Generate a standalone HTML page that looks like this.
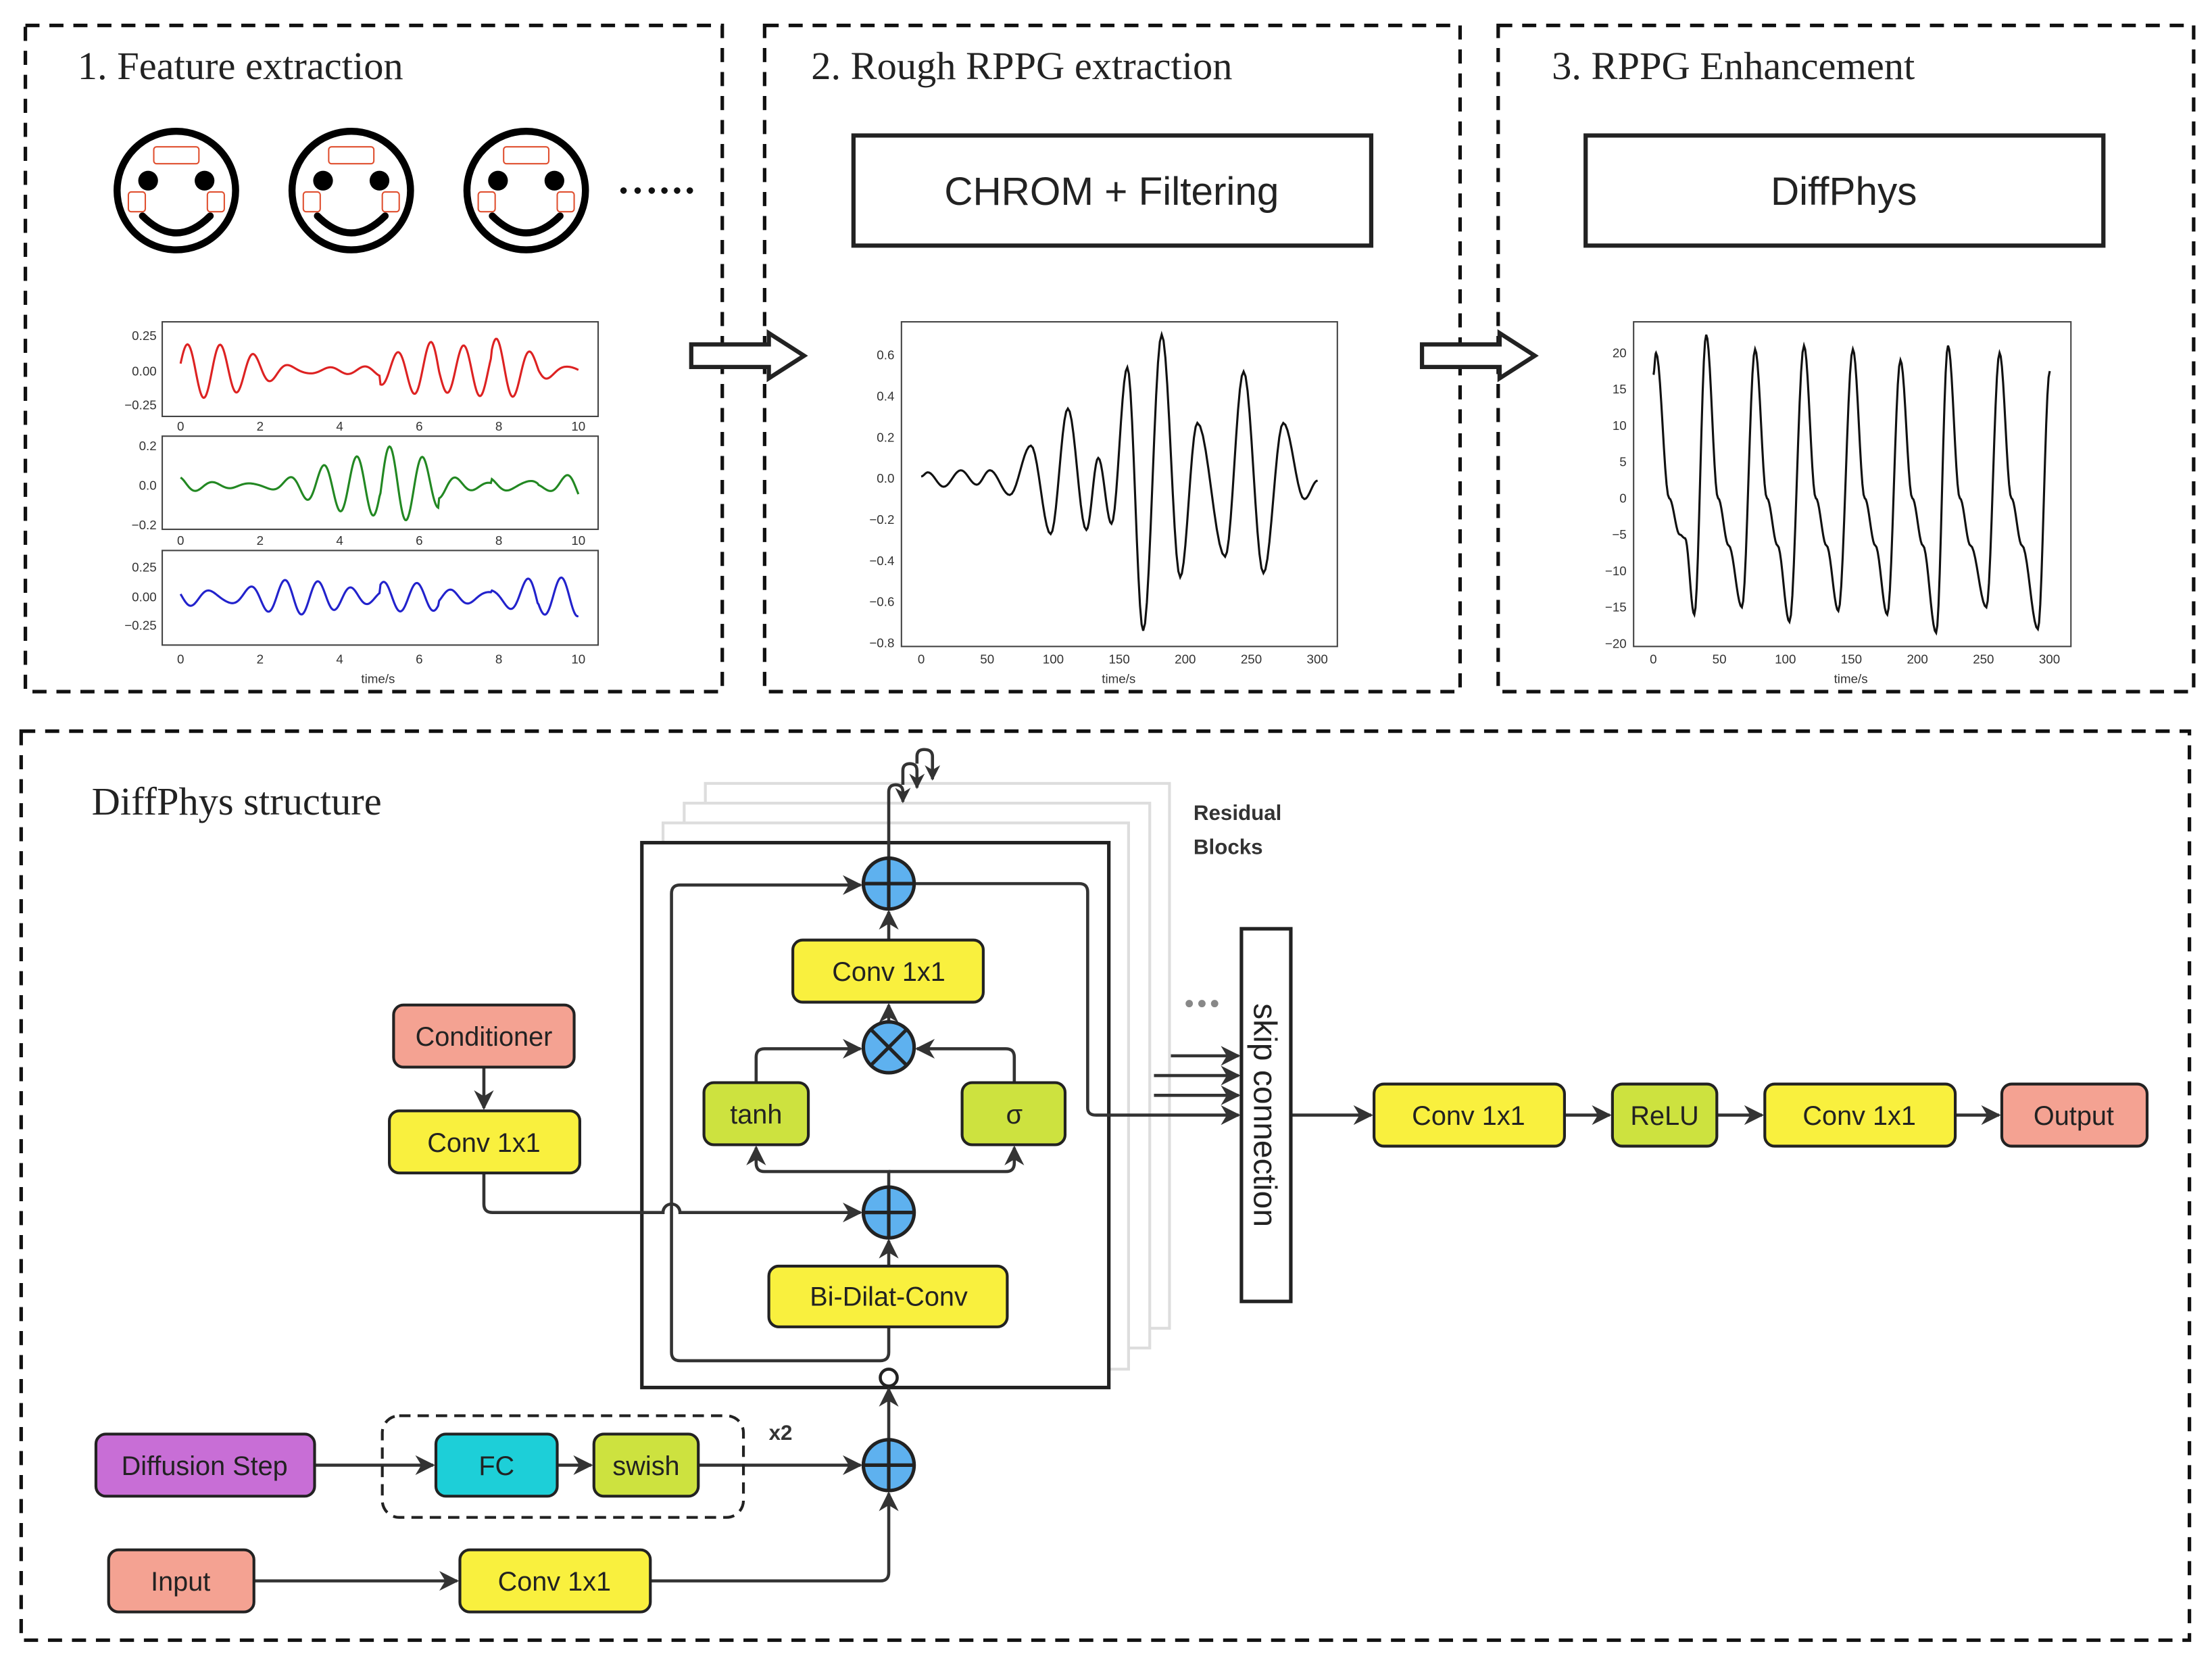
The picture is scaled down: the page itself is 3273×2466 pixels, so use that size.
<!DOCTYPE html>
<html><head><meta charset="utf-8"><style>
html,body{margin:0;padding:0;background:#fff}
svg{display:block}
.s{font-family:"Liberation Sans",sans-serif}
.r{font-family:"Liberation Serif",serif}
</style></head><body>
<svg id="sv" width="3273" height="2466" viewBox="0 0 1568 1181" preserveAspectRatio="none" xmlns="http://www.w3.org/2000/svg">
<defs>
<marker id="ah" viewBox="0 0 10 10" refX="9" refY="5" markerWidth="11" markerHeight="11" orient="auto-start-reverse" markerUnits="userSpaceOnUse">
<path d="M0,0 L10,5 L0,10 L3,5 z" fill="#333"/></marker>
<marker id="ah2" viewBox="0 0 10 10" refX="9" refY="5" markerWidth="14" markerHeight="14" orient="auto" markerUnits="userSpaceOnUse">
<path d="M0,0 L10,5 L0,10 L3,5 z" fill="#333"/></marker>
</defs>
<rect width="1568" height="1181" fill="#fff"/>
<g fill="none" stroke="#111" stroke-width="2.5" stroke-dasharray="10,7">
<rect x="18" y="18" width="494" height="472"/>
<rect x="542" y="18" width="493" height="472"/>
<rect x="1062" y="18" width="493" height="472"/>
<rect x="15" y="518" width="1537" height="644"/>
</g>
<g class="r" font-size="28" fill="#222">
<text x="55" y="56">1. Feature extraction</text>
<text x="575" y="56">2. Rough RPPG extraction</text>
<text x="1100" y="56">3. RPPG Enhancement</text>
<text x="65" y="577">DiffPhys structure</text>
</g>
<g id="faces"></g>
<g fill="#111"><circle cx="442" cy="135" r="2.3"/><circle cx="452" cy="135" r="2.3"/><circle cx="462" cy="135" r="2.3"/><circle cx="471" cy="135" r="2.3"/><circle cx="480" cy="135" r="2.3"/><circle cx="489" cy="135" r="2.3"/></g>
<g fill="none" stroke="#444" stroke-width="1">
<rect x="115" y="228" width="309" height="67"/>
<rect x="115" y="309" width="309" height="66"/>
<rect x="115" y="390" width="309" height="67"/>
<rect x="639" y="228" width="309" height="230"/>
<rect x="1158" y="228" width="310" height="230"/>
</g>
<g id="ticks" class="s" font-size="9" fill="#333"></g>
<g id="waves" fill="none" stroke-width="1.5"></g>
<g fill="#fff" stroke="#222" stroke-width="3">
<path d="M490,244 L545,244 L545,236 L570,252 L545,268 L545,260 L490,260 Z"/>
<path d="M1008,244 L1063,244 L1063,236 L1088,252 L1063,268 L1063,260 L1008,260 Z"/>
</g>
<g fill="#fff" stroke="#222" stroke-width="3">
<rect x="605" y="96" width="367" height="78"/>
<rect x="1124" y="96" width="367" height="78"/>
</g>
<g class="s" font-size="28" fill="#222" text-anchor="middle">
<text x="788" y="145">CHROM + Filtering</text>
<text x="1307" y="145">DiffPhys</text>
</g>
<g fill="#fff" stroke="#ddd" stroke-width="2">
<rect x="500" y="555" width="329" height="386"/>
<rect x="485" y="569" width="330" height="386"/>
<rect x="470" y="583" width="330" height="387"/>
</g>
<rect x="455" y="597" width="331" height="386" fill="#fff" stroke="#222" stroke-width="2.5"/>
<g fill="none" stroke="#333" stroke-width="2.2">
<path d="M630,608 L630,561 Q630,556 635,556 Q640,556 640,561 L640,568" marker-end="url(#ah)"/>
<path d="M640,556 L640,546 Q640,541 645,541 Q650,541 650,546 L650,558" marker-end="url(#ah)"/>
<path d="M650,541 L650,536 Q650,531 655,531 Q661,531 661,536 L661,552" marker-end="url(#ah)"/>
<path d="M630,940 L630,958 Q630,964 624,964 L482,964 Q476,964 476,958 L476,633 Q476,627 482,627 L610,627" marker-end="url(#ah2)"/>
<path d="M648,626 L765,626 Q771,626 771,632 L771,785 Q771,790 777,790 L878,790" marker-end="url(#ah2)"/>
<path d="M818,776 L878,776" marker-end="url(#ah2)"/>
<path d="M818,762 L878,762" marker-end="url(#ah2)"/>
<path d="M830,748 L878,748" marker-end="url(#ah2)"/>
<path d="M630,666 L630,646" marker-end="url(#ah2)"/>
<path d="M630,724 L630,712" marker-end="url(#ah2)"/>
<path d="M536,767 L536,749 Q536,743 542,743 L610,743" marker-end="url(#ah2)"/>
<path d="M719,767 L719,749 Q719,743 713,743 L650,743" marker-end="url(#ah2)"/>
<path d="M630,841 L630,830 L542,830 Q536,830 536,824 L536,813" marker-end="url(#ah2)"/>
<path d="M630,830 L713,830 Q719,830 719,824 L719,813" marker-end="url(#ah2)"/>
<path d="M630,897 L630,879" marker-end="url(#ah2)"/>
<path d="M630,1020 L630,984" marker-end="url(#ah2)"/>
<path d="M343,756 L343,785" marker-end="url(#ah2)"/>
<path d="M343,831 L343,853 Q343,859 349,859 L470,859 A6,6 0 0 1 482,859 L610,859" marker-end="url(#ah2)"/>
<path d="M915,790 L972,790" marker-end="url(#ah2)"/>
<path d="M1109,790 L1141,790" marker-end="url(#ah2)"/>
<path d="M1217,790 L1249,790" marker-end="url(#ah2)"/>
<path d="M1386,790 L1417,790" marker-end="url(#ah2)"/>
<path d="M223,1038 L307,1038" marker-end="url(#ah2)"/>
<path d="M395,1038 L419,1038" marker-end="url(#ah2)"/>
<path d="M495,1038 L610,1038" marker-end="url(#ah2)"/>
<path d="M180,1120 L324,1120" marker-end="url(#ah2)"/>
<path d="M461,1120 L624,1120 Q630,1120 630,1114 L630,1058" marker-end="url(#ah2)"/>
</g>
<circle cx="630" cy="976" r="6" fill="#fff" stroke="#222" stroke-width="2.2"/>
<g stroke="#222" stroke-width="2.5" fill="#5eb1ef">
<circle cx="630" cy="626" r="18"/><path d="M612,626 H648 M630,608 V644"/>
<circle cx="630" cy="742" r="18"/><path d="M617,729 L643,755 M643,729 L617,755"/>
<circle cx="630" cy="859" r="18"/><path d="M612,859 H648 M630,841 V877"/>
<circle cx="630" cy="1038" r="18"/><path d="M612,1038 H648 M630,1020 V1056"/>
</g>
<rect x="271" y="1003" width="256" height="72" rx="12" fill="none" stroke="#222" stroke-width="2" stroke-dasharray="8,5"/>
<g stroke="#222" stroke-width="2">
<rect x="562" y="666" width="135" height="44" rx="7" fill="#f9f03e"/>
<rect x="499" y="767" width="74" height="44" rx="7" fill="#cde23f"/>
<rect x="682" y="767" width="73" height="44" rx="7" fill="#cde23f"/>
<rect x="545" y="897" width="169" height="43" rx="7" fill="#f9f03e"/>
<rect x="279" y="712" width="128" height="44" rx="7" fill="#f4a292"/>
<rect x="276" y="787" width="135" height="44" rx="7" fill="#f9f03e"/>
<rect x="974" y="768" width="135" height="44" rx="7" fill="#f9f03e"/>
<rect x="1143" y="768" width="74" height="44" rx="7" fill="#cde23f"/>
<rect x="1251" y="768" width="135" height="44" rx="7" fill="#f9f03e"/>
<rect x="1419" y="768" width="103" height="44" rx="7" fill="#f4a292"/>
<rect x="68" y="1016" width="155" height="44" rx="7" fill="#c86ed6"/>
<rect x="309" y="1016" width="86" height="44" rx="7" fill="#1dcfd8"/>
<rect x="421" y="1016" width="74" height="44" rx="7" fill="#cde23f"/>
<rect x="77" y="1098" width="103" height="44" rx="7" fill="#f4a292"/>
<rect x="326" y="1098" width="135" height="44" rx="7" fill="#f9f03e"/>
</g>
<rect x="880" y="658" width="35" height="264" fill="#fff" stroke="#222" stroke-width="2.5"/>
<g class="s" font-size="19" fill="#222" text-anchor="middle">
<text x="630" y="695">Conv 1x1</text>
<text x="536" y="796">tanh</text>
<text x="719" y="796">σ</text>
<text x="630" y="925">Bi-Dilat-Conv</text>
<text x="343" y="741">Conditioner</text>
<text x="343" y="816">Conv 1x1</text>
<text x="1041" y="797">Conv 1x1</text>
<text x="1180" y="797">ReLU</text>
<text x="1318" y="797">Conv 1x1</text>
<text x="1470" y="797">Output</text>
<text x="145" y="1045">Diffusion Step</text>
<text x="352" y="1045">FC</text>
<text x="458" y="1045">swish</text>
<text x="128" y="1127">Input</text>
<text x="393" y="1127">Conv 1x1</text>
<text transform="translate(889,790) rotate(90)" font-size="23">skip connection</text>
</g>
<g class="s" font-size="15" font-weight="bold" fill="#333">
<text x="846" y="581">Residual</text><text x="846" y="605">Blocks</text>
<text x="545" y="1020">x2</text>
</g>
<g fill="#888"><circle cx="843" cy="711" r="2.6"/><circle cx="852" cy="711" r="2.6"/><circle cx="861" cy="711" r="2.6"/></g>
</svg>
<script>
var NS="http://www.w3.org/2000/svg";
function el(t,a,p,txt){var e=document.createElementNS(NS,t);for(var k in a)e.setAttribute(k,a[k]);if(txt!=null)e.textContent=txt;(p||document.getElementById('sv')).appendChild(e);return e;}
var F=document.getElementById('faces');
[125,249,373].forEach(function(cx){var cy=135;
el('circle',{cx:cx,cy:cy,r:42,fill:'#fff',stroke:'#000','stroke-width':5},F);
el('circle',{cx:cx-20,cy:cy-7,r:7,fill:'#000'},F);el('circle',{cx:cx+20,cy:cy-7,r:7,fill:'#000'},F);
el('path',{d:'M'+(cx-24)+','+(cy+18)+' Q'+cx+','+(cy+42)+' '+(cx+24)+','+(cy+18),fill:'none',stroke:'#000','stroke-width':5,'stroke-linecap':'round'},F);
el('rect',{x:cx-16,y:cy-31,width:32,height:12,rx:2,fill:'none',stroke:'#e05030','stroke-width':1},F);
el('rect',{x:cx-34,y:cy+1,width:12,height:14,rx:2,fill:'none',stroke:'#e05030','stroke-width':1},F);
el('rect',{x:cx+22,y:cy+1,width:12,height:14,rx:2,fill:'none',stroke:'#e05030','stroke-width':1},F);
});
var W=document.getElementById('waves'),T=document.getElementById('ticks');
function interp(pts,tx,vy,col){var d='';for(var i=0;i<pts.length-1;i++){var a=pts[i],b=pts[i+1];for(var s=0;s<=10;s++){var f=s/10,t=a[0]+(b[0]-a[0])*f,v=a[1]+(b[1]-a[1])*(1-Math.cos(Math.PI*f))/2;d+=(d?'L':'M')+tx(t).toFixed(2)+','+vy(v).toFixed(2);}}el('path',{d:d,stroke:col},W);}
var p2=[[0,0.01],[5,0.03],[17,-0.04],[30,0.04],[42,-0.03],[52,0.04],[67,-0.08],[83,0.16],[98,-0.27],[111,0.34],[125,-0.25],[134,0.1],[144,-0.22],[156,0.54],[168,-0.74],[182,0.7],[196,-0.48],[209,0.27],[230,-0.38],[244,0.52],[259,-0.46],[274,0.27],[290,-0.1],[300,-0.01]];
var tx2=function(t){return 653+t*281/300},vy2=function(v){return 339-v*145.7};
interp(p2,tx2,vy2,'#111');
var p3=[[0,17],[2,20],[12,0],[20,-5],[24,-5.5],[31,-16]];
var pk=[[40,22.5],[77,20.5],[114,21],[151,20.5],[187,19],[223,21],[262,20]],tr=[67,103,140,177,214,252,291],tv=[-15,-17,-15.5,-16,-18.5,-15,-18];
for(var i=0;i<pk.length;i++){var P=pk[i];p3.push(P);p3.push([P[0]+9,0]);p3.push([P[0]+17,-6.5]);p3.push([tr[i],tv[i]]);}
p3.push([300,17.5]);
var tx3=function(t){return 1172+t*281/300},vy3=function(v){return 353-v*5.15};
interp(p3,tx3,vy3,'#111');
function sig(seed,amp,cy,sc,col){var d='';for(var k=0;k<=400;k++){var t=k/40;var v=Math.sin(2*Math.PI*1.15*t+seed)*0.6+Math.sin(2*Math.PI*1.3*t+seed*2)*0.4;var env=0.6+0.4*Math.sin(t*0.9+seed*3)+ (t>5&&t<6.5||t>7.8&&t<9?0.35:0);v*=env*amp;d+=(d?'L':'M')+(128+t*28.2).toFixed(2)+','+(cy-v*sc).toFixed(2);}el('path',{d:d,stroke:col},W);}
sig(0.2,0.22,262.5,98,'#dd2222');sig(1.3,0.16,344,140,'#228822');sig(2.1,0.25,423,82,'#2222cc');
function tick(x,y,s,anchor){el('text',{x:x,y:y,'text-anchor':anchor||'middle'},T,s);}
[305,386,470].forEach(function(r){for(var i=0;i<=5;i++)tick(128+i*56.4,r,String(i*2));});
tick(111,241,'0.25','end');tick(111,266,'0.00','end');tick(111,290,'\u22120.25','end');
tick(111,319,'0.2','end');tick(111,347,'0.0','end');tick(111,375,'\u22120.2','end');
tick(111,405,'0.25','end');tick(111,426,'0.00','end');tick(111,446,'\u22120.25','end');
tick(268,484,'time/s');
for(var i=0;i<=6;i++){tick(653+i*46.8,470,String(i*50));tick(1172+i*46.8,470,String(i*50));}
tick(793,484,'time/s');tick(1312,484,'time/s');
[0.6,0.4,0.2,0.0,-0.2,-0.4,-0.6,-0.8].forEach(function(v){tick(634,vy2(v)+3,(v<0?'\u2212':'')+Math.abs(v).toFixed(1),'end');});
[20,15,10,5,0,-5,-10,-15,-20].forEach(function(v){tick(1153,vy3(v)+3,(v<0?'\u2212':'')+Math.abs(v),'end');});
</script>
</body></html>
